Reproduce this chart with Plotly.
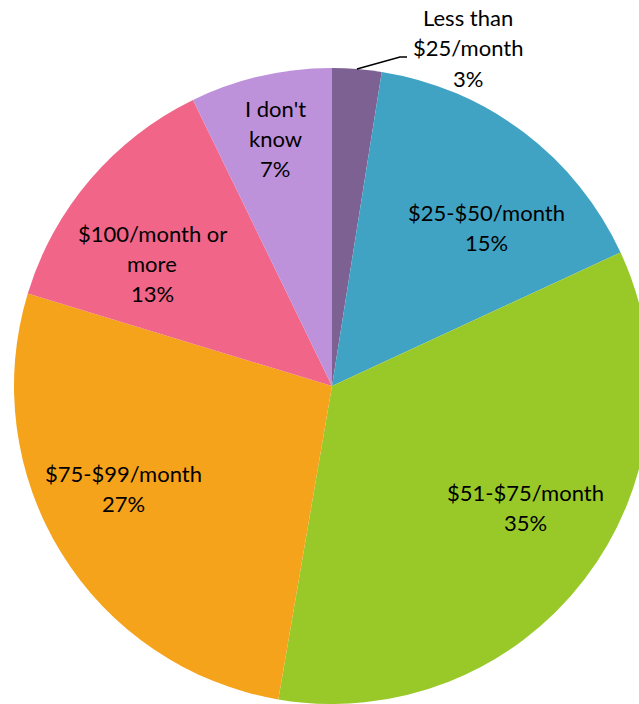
import math
import plotly.graph_objects as go

# ---- data ----
categories = ["Less than $25/month", "$25-$50/month", "$51-$75/month",
              "$75-$99/month", "$100/month or more", "I don't know"]
values = [2.5, 15.6, 34.6, 27.0, 13.1, 7.2]
pct_labels = ["3%", "15%", "35%", "27%", "13%", "7%"]
label_lines = [["Less than", "$25/month"], ["$25-$50/month"], ["$51-$75/month"],
               ["$75-$99/month"], ["$100/month or", "more"], ["I don't", "know"]]

# ---- style / layout ----
colors = ["#7D6193", "#41A3C4", "#99C928", "#F5A31B", "#F06588", "#BE91DB"]
W, H = 660, 704
CX, CY, R = 332, 386, 318          # pie centre / radius in pixels
label_centers = [(468, 48), (486, 227), (525, 507), (124, 488), (152, 263), (275, 138)]
LINE_GAP = 30
FONT = dict(family="Lato, Calibri, Carlito, sans-serif", size=22, color="#000000")


def px(x):
    return x / W


def py(y):
    return 1 - y / H


fig = go.Figure(go.Pie(
    labels=categories,
    values=values,
    sort=False,
    direction="clockwise",
    rotation=0,
    marker=dict(colors=colors, line=dict(width=0)),
    textinfo="none",
    hoverinfo="label+percent",
    showlegend=False,
    domain=dict(x=[px(CX - R), px(CX + R)], y=[py(CY + R), py(CY - R)]),
))

annotations = []
for lines, pct, (lx, ly) in zip(label_lines, pct_labels, label_centers):
    all_lines = lines + [pct]
    n = len(all_lines)
    for i, t in enumerate(all_lines):
        yy = ly + (i - (n - 1) / 2) * LINE_GAP
        annotations.append(dict(x=px(lx), y=py(yy), xref="paper", yref="paper",
                                text=t, showarrow=False, font=FONT,
                                xanchor="center", yanchor="middle"))

# leader line for the smallest slice, starting at its mid-angle on the rim
mid = values[0] / 2 / sum(values) * 2 * math.pi
sx, sy = CX + R * math.sin(mid), CY - R * math.cos(mid)
shapes = [dict(type="path", xref="paper", yref="paper",
               path=f"M {px(sx)},{py(sy)} L {px(400)},{py(57)} L {px(407)},{py(57)}",
               line=dict(color="#000000", width=1.5))]

fig.update_layout(
    width=W, height=H,
    margin=dict(l=0, r=0, t=0, b=0),
    paper_bgcolor="white", plot_bgcolor="white",
    annotations=annotations, shapes=shapes,
)

fig.write_html("out.html",
               config={"displayModeBar": False},
               post_script="document.body.style.margin='0';document.body.style.overflow='hidden';")
